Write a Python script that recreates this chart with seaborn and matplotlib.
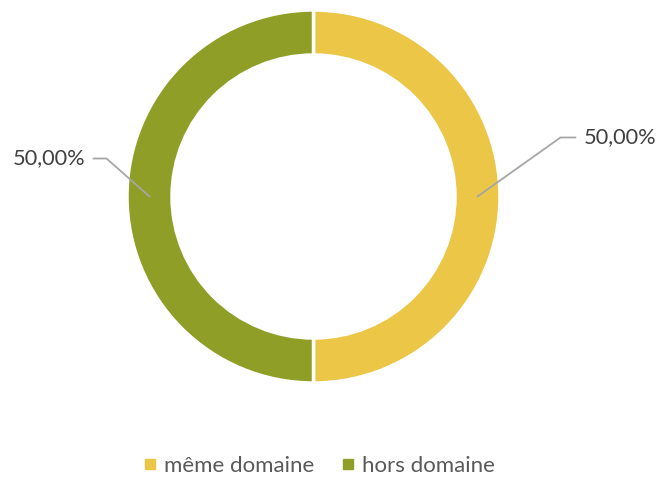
import numpy as np
import seaborn as sns
import matplotlib.pyplot as plt
from matplotlib.lines import Line2D

categories = ["même domaine", "hors domaine"]
values = [50.0, 50.0]
colors = ["#EBC647", "#8F9E27"]
labels = ["50,00%", "50,00%"]

sns.set_theme(style="white")
plt.rcParams["font.family"] = ["Lato", "DejaVu Sans"]

W, H = 659, 482
fig = plt.figure(figsize=(W / 100, H / 100), dpi=100)
ax = fig.add_axes([0, 0, 1, 1])

cx, cy, r = 313.5, H - 196.5, 186.5
width = 45
wedges, _ = ax.pie(values, colors=colors, startangle=90, counterclock=False,
                   radius=r, center=(cx, cy), frame=True,
                   wedgeprops=dict(width=width, edgecolor="white", linewidth=2.5))
ax.set_xlim(0, W)
ax.set_ylim(0, H)
ax.set_aspect("equal")
ax.axis("off")

# leader lines: (dx, dy, horizontal tail)
offsets = [(83, 59, 15), (-43, 38, -13)]
for w, lab, (dx, dy, hx) in zip(wedges, labels, offsets):
    ang = np.deg2rad((w.theta1 + w.theta2) / 2)
    rm = r - width / 2
    x0 = cx + rm * np.cos(ang)
    y0 = cy + rm * np.sin(ang)
    x1, y1 = x0 + dx, y0 + dy
    x2 = x1 + hx
    ax.plot([x0, x1, x2], [y0, y1, y1], color="#A6A6A6", lw=1.3)
    ha = "left" if hx > 0 else "right"
    ax.text(x2 + (8 if hx > 0 else -8), y1, lab, ha=ha, va="center",
            fontsize=15.7, color="#404040")

handles = [Line2D([], [], marker="s", linestyle="", markersize=7,
                  markerfacecolor=c, markeredgecolor=c) for c in colors]
fig.legend(handles, categories, loc="center", bbox_to_anchor=(319 / W, 1 - 466 / H),
           ncol=2, frameon=False, fontsize=16, labelcolor="#595959",
           handlelength=0.6, handletextpad=0.35, columnspacing=1.2)

fig.savefig("out.png", dpi=100)
